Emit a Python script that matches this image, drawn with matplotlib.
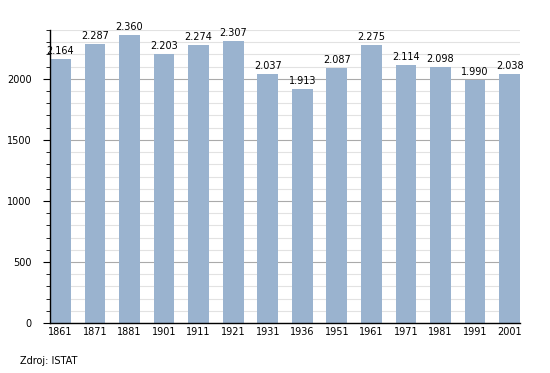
import matplotlib.pyplot as plt
import numpy as np

years = ['1861', '1871', '1881', '1901', '1911', '1921', '1931',
         '1936', '1951', '1961', '1971', '1981', '1991', '2001']
population = [2164, 2287, 2360, 2203, 2274, 2307, 2037,
              1913, 2087, 2275, 2114, 2098, 1990, 2038]

fig = plt.figure(figsize=(5.5, 3.73), dpi=100)
ax = fig.add_axes([50 / 550, 1 - 323 / 373, 470 / 550, 293 / 373])

x = np.arange(len(years))
ax.bar(x, population, width=0.6, color='#9ab3cf', zorder=2)

for xi, v in zip(x, population):
    label = f'{v:,}'.replace(',', '.')
    ax.text(xi, v + 25, label, ha='center', va='bottom', fontsize=7)

ax.set_xlim(-0.3, len(years) - 0.7)
ax.set_ylim(0, 2400)
ax.set_yticks(np.arange(0, 2001, 500))
ax.set_yticks(np.arange(0, 2401, 100), minor=True)
ax.grid(axis='y', which='major', color='#aaaaaa', lw=0.8, zorder=0)
ax.grid(axis='y', which='minor', color='#e2e2e2', lw=0.8, zorder=0)
ax.set_xticks(x)
ax.set_xticklabels(years)
ax.tick_params(axis='x', length=0, labelsize=7, pad=3)
ax.tick_params(axis='y', which='major', length=5, labelsize=7, pad=8)
ax.tick_params(axis='y', which='minor', length=3)

for s in ['top', 'right']:
    ax.spines[s].set_visible(False)
ax.spines['left'].set_linewidth(1)
ax.spines['bottom'].set_linewidth(1)

fig.text(20 / 550, 1 - 361 / 373, 'Zdroj: ISTAT', fontsize=7, va='center')

fig.savefig('out.png', dpi=100)
